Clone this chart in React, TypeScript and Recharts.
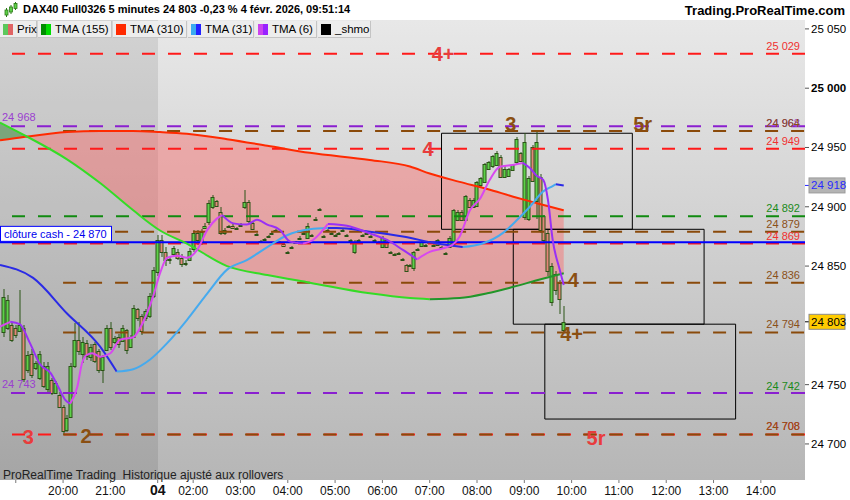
import React from "react";
import {
  ComposedChart,
  Bar,
  Line,
  Area,
  XAxis,
  YAxis,
  ReferenceLine,
  ReferenceArea,
  ReferenceDot,
} from "recharts";

// ---------- time mapping (trading-time axis: the 22:00–01:15 closure is removed) ----------
const toU = (t: string) => {
  const [h, m] = t.split(":").map(Number);
  const hh = h + m / 60;
  return hh >= 18 ? hh - 20 : 2 + (hh - 1.25);
};

// ---------- candles (5 min) : [open, high, low, close] ----------
const EVENING_START = "18:45";
const EVENING: number[][] = [
  [24794, 24831, 24790, 24824], [24798, 24826, 24796, 24821], [24800, 24802, 24786, 24788],
  [24798, 24800, 24789, 24792], [24795, 24830, 24794, 24800], [24798, 24800, 24752, 24755],
  [24762, 24778, 24760, 24775], [24776, 24780, 24756, 24758], [24764, 24770, 24762, 24768],
  [24756, 24778, 24754, 24776], [24766, 24769, 24747, 24749], [24746, 24769, 24744, 24766],
  [24754, 24756, 24741, 24743], [24743, 24753, 24742, 24751], [24741, 24744, 24730, 24731],
  [24731, 24733, 24708, 24711], [24712, 24724, 24710, 24722], [24723, 24768, 24722, 24766],
  [24766, 24802, 24764, 24788], [24788, 24803, 24775, 24778], [24776, 24790, 24768, 24786],
  [24785, 24788, 24771, 24774], [24773, 24784, 24770, 24782], [24784, 24786, 24768, 24770],
  [24778, 24780, 24760, 24762], [24762, 24775, 24751, 24773], [24779, 24800, 24778, 24798],
  [24798, 24803, 24779, 24782], [24786, 24791, 24784, 24789], [24790, 24793, 24781, 24784],
  [24787, 24800, 24786, 24798], [24796, 24797, 24776, 24779], [24782, 24792, 24781, 24790],
  [24790, 24817, 24789, 24815], [24814, 24815, 24804, 24806], [24808, 24810, 24792, 24795],
  [24806, 24814, 24804, 24812], [24808, 24827, 24806, 24825], [24825, 24849, 24823, 24847],
];
const MORNING_START = "01:15";
const MORNING: number[][] = [
  [24845, 24876, 24842, 24872], [24872, 24876, 24858, 24862], [24862, 24866, 24850, 24855],
  [24855, 24858, 24852, 24856], [24860, 24867, 24858, 24865], [24862, 24864, 24855, 24857],
  [24857, 24860, 24849, 24852], [24852, 24855, 24850, 24853], [24855, 24865, 24854, 24863],
  [24864, 24880, 24862, 24878], [24878, 24880, 24868, 24872], [24870, 24881, 24868, 24879],
  [24882, 24886, 24881, 24884], [24887, 24906, 24885, 24903], [24900, 24910, 24898, 24908],
  [24905, 24906, 24900, 24901], [24896, 24900, 24876, 24878], [24878, 24882, 24876, 24880],
  [24883, 24885, 24882, 24884], [24884, 24886, 24881, 24882], [24881, 24883, 24880, 24882],
  [24884, 24886, 24883, 24885], [24900, 24914, 24898, 24904], [24904, 24906, 24886, 24888],
  [24886, 24888, 24880, 24881], [24877, 24878, 24876, 24877], [24871, 24872, 24870, 24871],
  [24873, 24874, 24872, 24873], [24875, 24876, 24874, 24875], [24878, 24879, 24877, 24878],
  [24880, 24881, 24879, 24880], [24870, 24871, 24869, 24870], [24869, 24870, 24866, 24867],
  [24862, 24863, 24861, 24862], [24866, 24867, 24865, 24866], [24870, 24871, 24869, 24870],
  [24873, 24875, 24872, 24874], [24877, 24879, 24876, 24878], [24874, 24886, 24873, 24884],
  [24876, 24877, 24875, 24876], [24890, 24891, 24889, 24890], [24898, 24899, 24897, 24898],
  [24875, 24876, 24874, 24875], [24880, 24881, 24879, 24880], [24878, 24879, 24877, 24878],
  [24876, 24877, 24875, 24876], [24878, 24879, 24877, 24878], [24880, 24881, 24879, 24880],
  [24876, 24877, 24875, 24876], [24871, 24873, 24869, 24872], [24862, 24872, 24860, 24870],
  [24872, 24873, 24871, 24872], [24876, 24877, 24875, 24876], [24878, 24879, 24877, 24878],
  [24875, 24876, 24874, 24875], [24872, 24873, 24871, 24872], [24870, 24871, 24869, 24870],
  [24866, 24875, 24865, 24874], [24872, 24873, 24865, 24866], [24862, 24863, 24861, 24862],
  [24860, 24861, 24859, 24860], [24861, 24862, 24860, 24861], [24856, 24857, 24855, 24856],
  [24851, 24852, 24845, 24846], [24851, 24852, 24850, 24851], [24848, 24863, 24846, 24862],
  [24864, 24865, 24863, 24864], [24867, 24871, 24866, 24870], [24868, 24869, 24867, 24868],
  [24870, 24871, 24869, 24870], [24868, 24869, 24867, 24868], [24868, 24873, 24867, 24872],
  [24866, 24867, 24865, 24866], [24861, 24862, 24860, 24861], [24866, 24875, 24865, 24874],
  [24869, 24898, 24866, 24897], [24889, 24897, 24888, 24896], [24896, 24897, 24888, 24889],
  [24889, 24910, 24888, 24909], [24906, 24907, 24899, 24900], [24900, 24907, 24899, 24906],
  [24901, 24922, 24900, 24921], [24918, 24925, 24917, 24924], [24921, 24937, 24920, 24936],
  [24932, 24939, 24931, 24938], [24934, 24944, 24933, 24943], [24935, 24947, 24934, 24945],
  [24942, 24944, 24924, 24925], [24925, 24934, 24924, 24932], [24926, 24933, 24925, 24932],
  [24931, 24936, 24930, 24935], [24938, 24959, 24936, 24957], [24945, 24946, 24938, 24939],
  [24891, 24962, 24889, 24955], [24890, 24926, 24888, 24924], [24950, 24952, 24921, 24922],
  [24905, 24964, 24890, 24955], [24925, 24928, 24878, 24880], [24892, 24893, 24870, 24872],
  [24878, 24880, 24842, 24846], [24820, 24853, 24816, 24850], [24843, 24846, 24826, 24830],
  [24836, 24838, 24810, 24822], [24796, 24816, 24794, 24803],
];

// ---------- moving averages ----------
const SLOW_TIMES = ["18:40", "19:12", "20:05", "20:47", "21:29", "01:18", "01:52", "02:43", "03:34", "04:28", "05:44", "06:35", "07:00", "07:38", "08:13", "08:46", "09:16", "09:50"];
const TMA310 = [24956, 24959, 24963, 24964, 24964, 24963, 24961.5, 24957, 24951.5, 24945.5, 24939.5, 24934, 24928, 24921, 24915, 24908.5, 24903, 24897];
const TMA155 = [24971, 24960, 24940, 24920, 24897, 24880, 24869, 24850, 24842.5, 24836, 24827, 24823, 24822, 24823, 24827, 24832.5, 24838, 24844];

const TMA31_TIMES = ["18:40", "19:22", "20:05", "20:47", "21:08", "21:29", "21:50", "01:27", "01:52", "02:18", "02:43", "03:08", "03:34", "03:59", "04:28", "04:51", "05:02", "05:44", "06:26", "07:09", "07:42", "08:07", "08:33", "08:51", "09:07", "09:24", "09:36", "09:40", "09:50"];
const TMA31 = [24851, 24840, 24810, 24782, 24761, 24763, 24771, 24785, 24804.5, 24827, 24847, 24855, 24866, 24876, 24881, 24882, 24882, 24879, 24875, 24869, 24866, 24869, 24878, 24889, 24900, 24913, 24917.5, 24919, 24918];

const TMA6_TIMES = ["18:40", "18:53", "19:05", "19:18", "19:31", "19:44", "19:54", "20:03", "20:09", "20:18", "20:24", "20:30", "20:37", "20:47", "21:00", "21:12", "21:29", "21:41", "21:54", "01:18", "01:27", "01:40", "01:52", "02:05", "02:18", "02:30", "02:37", "02:51", "03:08", "03:21", "03:34", "03:50", "04:03", "04:19", "04:32", "04:51", "05:15", "05:44", "06:06", "06:26", "06:44", "07:00", "07:17", "07:29", "07:38", "07:51", "08:04", "08:16", "08:29", "08:42", "08:58", "09:07", "09:16", "09:24", "09:30", "09:36", "09:45", "09:50"];
const TMA6 = [24799, 24803, 24801, 24785, 24767, 24760, 24748, 24737, 24734, 24748, 24768, 24775, 24776.5, 24773.6, 24776.5, 24787.7, 24790, 24802, 24824, 24844, 24857, 24858.6, 24857, 24863.6, 24880.5, 24890, 24893, 24886, 24885, 24889, 24885, 24880.5, 24870.6, 24869, 24872, 24885.5, 24884, 24877.6, 24872, 24863.6, 24855.7, 24862, 24865, 24868, 24875, 24897, 24907, 24922.6, 24933.8, 24935, 24937, 24932.7, 24926, 24922.6, 24905.7, 24872, 24846.7, 24834];

// ---------- horizontal levels ----------
const RED_LEVELS = [25029, 24949, 24869, 24708];
const PURPLE_LEVELS = [24968, 24743];
const BROWN_LEVELS = [24964, 24879, 24836, 24794, 24708];
const GREEN_LEVELS = [24892];
const CASH_CLOSE = 24870;
const LAST_PRICE = 24803;
const LAST_TMA31 = 24918;
// [value shown, level it sits on, colour]
const RIGHT_TAGS: [number, number, string][] = [
  [25029, 25029, "red"], [24968, 24964, "purple"], [24964, 24964, "brown"], [24949, 24949, "red"],
  [24892, 24892, "green"], [24879, 24879, "brown"], [24869, 24869, "red"], [24836, 24836, "brown"],
  [24794, 24794, "brown"], [24742, 24742, "green"], [24708, 24708, "red"], [24708, 24708, "brown"],
];
const LEFT_TAGS = [24968, 24743];

// ---------- annotations ----------
const BIG_LABELS: { t: string; v: number; text: string; c: string }[] = [
  { t: "07:17", v: 25029, text: "4+", c: "red" },
  { t: "06:58", v: 24949, text: "4", c: "red" },
  { t: "08:43", v: 24970, text: "3", c: "brown" },
  { t: "11:30", v: 24970, text: "5r", c: "brown" },
  { t: "10:02", v: 24838, text: "4", c: "brown" },
  { t: "10:00", v: 24793, text: "4+", c: "brown" },
  { t: "19:16", v: 24706, text: "3", c: "red" },
  { t: "20:29", v: 24707, text: "2", c: "brown" },
  { t: "10:31", v: 24705, text: "5r", c: "red" },
];
const BOXES: [string, string, number, number][] = [
  ["07:15", "11:17", 24962, 24881],
  ["08:46", "12:48", 24881, 24801],
  ["09:26", "13:28", 24801, 24721],
];

// ---------- axes ----------
const X_DOMAIN = [toU("18:40"), toU("14:56")];
const Y_DOMAIN = [24669.6, 25057.5];
const X_TICK_TIMES = ["19:00", "20:00", "21:00", "22:00", "02:00", "03:00", "04:00", "05:00", "06:00", "07:00", "08:00", "09:00", "10:00", "11:00", "12:00", "13:00", "14:00"];
const X_TICK_LABELS = ["", "20:00", "21:00", "04", "02:00", "03:00", "04:00", "05:00", "06:00", "07:00", "08:00", "09:00", "10:00", "11:00", "12:00", "13:00", "14:00"];
const Y_TICKS = [24700, 24750, 24850, 24900, 24950, 25000, 25050];

// ---------- styles ----------
const COL: Record<string, string> = {
  red: "#ff1a1a",
  purple: "#8a1fd0",
  brown: "#8a4a0a",
  green: "#108a10",
};
const TAG_COL: Record<string, string> = {
  red: "#f03030",
  purple: "#9a40d0",
  brown: "#8a5018",
  green: "#1a8a1a",
};
const BIG_COL: Record<string, string> = { red: "#e83c3c", brown: "#8a4f12" };
const WICK = "#2b5416";
const UP = "#5ed04a";
const DOWN = "#e4867a";
const FONT = "'Liberation Sans', Arial, sans-serif";
const NARROW = "'Liberation Sans Narrow', 'Liberation Sans', Arial, sans-serif";

const fmt = (v: number) => String(v).replace(/\B(?=(\d{3})+(?!\d))/g, " ");

const candles = [
  ...EVENING.map((q, i) => ({ u: toU(EVENING_START) + i / 12, o: q[0], h: q[1], l: q[2], c: q[3] })),
  ...MORNING.map((q, i) => ({ u: toU(MORNING_START) + i / 12, o: q[0], h: q[1], l: q[2], c: q[3] })),
];

const pts = (times: string[], vals: number[]) => times.map((t, i) => ({ u: toU(t), v: vals[i] }));
const seg = (p: { u: number; v: number }[], a: string, b: string) =>
  p.filter((d) => d.u >= toU(a) - 1e-9 && d.u <= toU(b) + 1e-9);

const red310 = pts(SLOW_TIMES, TMA310);
const green155 = pts(SLOW_TIMES, TMA155);
const slowBand = SLOW_TIMES.map((t, i) => ({ u: toU(t), g: TMA155[i], r: TMA310[i] }));
const blue31 = pts(TMA31_TIMES, TMA31);
const purple6 = pts(TMA6_TIMES, TMA6);

const BLUE_SEGS: [string, string, string][] = [
  ["18:40", "21:08", "#2a2ae6"],
  ["21:08", "04:51", "#46aaee"],
  ["04:51", "07:42", "#2a2ae6"],
  ["07:42", "09:40", "#46aaee"],
  ["09:40", "09:50", "#2a2ae6"],
];
const PURPLE_SEGS: [string, string, string][] = [
  ["18:40", "18:53", "#d848f0"],
  ["18:53", "20:09", "#9a30f5"],
  ["20:09", "02:37", "#d848f0"],
  ["02:37", "04:19", "#9a30f5"],
  ["04:19", "04:51", "#d848f0"],
  ["04:51", "06:44", "#9a30f5"],
  ["06:44", "08:58", "#d848f0"],
  ["08:58", "09:50", "#9a30f5"],
];
const GREEN_SEGS: [string, string, string][] = [
  ["18:40", "07:00", "#34dc26"],
  ["07:00", "09:50", "#22962a"],
];

const CandleShape = (props: any) => {
  const { x, y, width, height, payload } = props;
  if (x == null || y == null || !payload) return null;
  const top = Math.min(y, y + height);
  const bot = Math.max(y, y + height);
  const { o, h, l, c } = payload;
  const span = h - l || 1;
  const toY = (v: number) => top + ((h - v) / span) * (bot - top);
  const left = Math.round(x + width / 2 - 1.5) + 0.5;
  const mid = left + 1.5;
  const bt = Math.round(toY(Math.max(o, c))) + 0.5;
  const bb = Math.round(toY(Math.min(o, c))) + 0.5;
  return (
    <g>
      <line x1={mid} x2={mid} y1={Math.round(top)} y2={Math.round(bot)} stroke={WICK} strokeWidth={1} />
      <rect x={left - 0.5} y={bt} width={3} height={Math.max(bb - bt, 1)} fill={c >= o ? UP : DOWN} stroke={WICK} strokeWidth={1} />
    </g>
  );
};

const XTick = (props: any) => {
  const { x, y, payload } = props;
  const idx = X_TICK_TIMES.findIndex((t) => Math.abs(toU(t) - payload.value) < 1e-6);
  const lab = idx >= 0 ? X_TICK_LABELS[idx] : "";
  const bold = lab === "04";
  return (
    <text x={x} y={y + 10} textAnchor="middle" fontFamily={NARROW} fontSize={bold ? 14 : 12} fontWeight={bold ? "bold" : "normal"} fill="#111">
      {lab}
    </text>
  );
};

const YTick = (props: any) => {
  const { x, y, payload } = props;
  return (
    <text x={x} y={y + 4} textAnchor="start" fontFamily={FONT} fontSize={11.5} fontWeight={payload.value === 25000 ? "bold" : "normal"} fill="#000">
      {fmt(payload.value)}
    </text>
  );
};

const Swatch = ({ a, b }: { a: string; b: string }) => (
  <span style={{ display: "inline-flex", width: 10, height: 11, marginRight: 4, flexShrink: 0 }}>
    <span style={{ width: 5, height: 11, background: a }} />
    <span style={{ width: 5, height: 11, background: b }} />
  </span>
);

const LEGEND: { left: number; w: number; a: string; b: string; label: string }[] = [
  { left: 0, w: 38, a: "#5cc85c", b: "#e06464", label: "Prix" },
  { left: 38, w: 75, a: "#008c00", b: "#00dc00", label: "TMA (155)" },
  { left: 113, w: 75, a: "#ff2a00", b: "#ff2a00", label: "TMA (310)" },
  { left: 188, w: 67, a: "#3aaaf0", b: "#2222ff", label: "TMA (31)" },
  { left: 255, w: 63, a: "#cc44ee", b: "#9922ff", label: "TMA (6)" },
  { left: 318, w: 54, a: "#000", b: "#000", label: "_shmo" },
];

export default function App() {
  const xMax = X_DOMAIN[1];
  const xMin = X_DOMAIN[0];
  return (
    <div style={{ position: "absolute", left: 0, top: 0, width: 850, height: 500, background: "#fff", overflow: "hidden", fontFamily: FONT }}>
      {/* plot background */}
      <div style={{ position: "absolute", left: 0, top: 20, width: 805, height: 460, background: "linear-gradient(#e8e8e8, #b6b6b6)" }} />
      <div style={{ position: "absolute", left: 0, top: 20, width: 158, height: 460, background: "rgba(0,0,0,0.09)" }} />

      <div style={{ position: "absolute", left: 0, top: 0 }}>
        <ComposedChart width={850} height={500} data={candles} margin={{ top: 20, right: 0, bottom: 0, left: 0 }}>
          <XAxis
            dataKey="u"
            type="number"
            domain={X_DOMAIN}
            allowDataOverflow
            ticks={X_TICK_TIMES.map(toU)}
            interval={0}
            height={20}
            tick={<XTick />}
            tickLine={{ stroke: "#777" }}
            tickSize={3}
            axisLine={false}
          />
          <YAxis
            orientation="right"
            type="number"
            domain={Y_DOMAIN}
            allowDataOverflow
            ticks={Y_TICKS}
            interval={0}
            width={45}
            tick={<YTick />}
            tickLine={{ stroke: "#555" }}
            tickSize={4}
            tickMargin={2}
            axisLine={false}
          />

          <Area data={slowBand.slice(0, 2)} dataKey={(d: any) => [d.r, d.g]} type="monotone" stroke="none" fill="#3c8a3c" fillOpacity={0.55} isAnimationActive={false} />
          <Area data={slowBand.slice(1)} dataKey={(d: any) => [d.g, d.r]} type="monotone" stroke="none" fill="#ff6464" fillOpacity={0.42} isAnimationActive={false} />

          {RED_LEVELS.map((v) => (
            <ReferenceLine key={"r" + v} y={v} stroke={COL.red} strokeWidth={2} strokeDasharray="13 13" />
          ))}
          {PURPLE_LEVELS.map((v) => (
            <ReferenceLine key={"p" + v} y={v} stroke={COL.purple} strokeWidth={2} strokeDasharray="14 12" />
          ))}
          {GREEN_LEVELS.map((v) => (
            <ReferenceLine key={"g" + v} y={v} stroke={COL.green} strokeWidth={2} strokeDasharray="13 13" />
          ))}
          {BROWN_LEVELS.map((v) => (
            <ReferenceLine key={"b" + v} segment={[{ x: toU("20:00"), y: v }, { x: xMax, y: v }]} stroke={COL.brown} strokeWidth={2} strokeDasharray="13 13" />
          ))}
          <ReferenceLine y={CASH_CLOSE} stroke="#0000ff" strokeWidth={2} />

          <Bar dataKey={(d: any) => [d.l, d.h]} barSize={3} shape={<CandleShape />} isAnimationActive={false} />

          <Line data={red310} dataKey="v" type="monotone" stroke="#ff2a00" strokeWidth={2} dot={false} isAnimationActive={false} />
          {GREEN_SEGS.map(([a, b, c]) => (
            <Line key={"gs" + a} data={seg(green155, a, b)} dataKey="v" type="monotone" stroke={c} strokeWidth={2} dot={false} isAnimationActive={false} />
          ))}
          {BLUE_SEGS.map(([a, b, c]) => (
            <Line key={"bs" + a} data={seg(blue31, a, b)} dataKey="v" type="monotone" stroke={c} strokeWidth={2} dot={false} isAnimationActive={false} />
          ))}
          {PURPLE_SEGS.map(([a, b, c]) => (
            <Line key={"ps" + a} data={seg(purple6, a, b)} dataKey="v" type="monotone" stroke={c} strokeWidth={2} dot={false} isAnimationActive={false} />
          ))}

          {BOXES.map(([a, b, y1, y2]) => (
            <ReferenceArea key={"box" + a} x1={toU(a)} x2={toU(b)} y1={y1} y2={y2} fill="none" fillOpacity={0} stroke="#000" strokeWidth={1} ifOverflow="visible" />
          ))}

          {RIGHT_TAGS.map(([v, lvl, c], i) => (
            <ReferenceDot
              key={"rt" + i}
              x={xMax}
              y={lvl}
              r={1}
              ifOverflow="visible"
              shape={(p: any) => (
                <text x={p.cx - 5} y={p.cy - 4} textAnchor="end" fontFamily={FONT} fontSize={11} fill={TAG_COL[c]}>
                  {fmt(v)}
                </text>
              )}
            />
          ))}
          {LEFT_TAGS.map((v) => (
            <ReferenceDot
              key={"lt" + v}
              x={xMin}
              y={v}
              r={1}
              ifOverflow="visible"
              shape={(p: any) => (
                <text x={p.cx + 2} y={p.cy - 5} textAnchor="start" fontFamily={FONT} fontSize={11} fill={TAG_COL.purple}>
                  {fmt(v)}
                </text>
              )}
            />
          ))}
          <ReferenceDot
            x={xMin}
            y={CASH_CLOSE}
            r={1}
            ifOverflow="visible"
            shape={(p: any) => (
              <g>
                <rect x={p.cx + 0.5} y={p.cy - 16} width={111} height={15} fill="#fff" stroke="#0000ff" strokeWidth={1} />
                <text x={p.cx + 4} y={p.cy - 4.5} fontFamily={FONT} fontSize={11} fill="#0000ee">
                  {"clôture cash -  " + fmt(CASH_CLOSE)}
                </text>
              </g>
            )}
          />
          {BIG_LABELS.map((b, i) => (
            <ReferenceDot
              key={"bl" + i}
              x={toU(b.t)}
              y={b.v}
              r={1}
              ifOverflow="visible"
              shape={(p: any) => (
                <text x={p.cx} y={p.cy + 7} textAnchor="middle" fontFamily={FONT} fontSize={20} fontWeight="bold" fill={BIG_COL[b.c]}>
                  {b.text}
                </text>
              )}
            />
          ))}
          <ReferenceDot
            x={xMax}
            y={LAST_TMA31}
            r={1}
            ifOverflow="visible"
            shape={(p: any) => (
              <g>
                <line x1={p.cx} x2={p.cx + 4} y1={p.cy} y2={p.cy} stroke="#2222ff" />
                <rect x={p.cx + 4} y={p.cy - 7.5} width={36} height={15} fill="#b4b4b4" stroke="#9a9a9a" />
                <text x={p.cx + 6} y={p.cy + 4} fontFamily={FONT} fontSize={11.5} fill="#2a2aff">
                  {fmt(LAST_TMA31)}
                </text>
              </g>
            )}
          />
          <ReferenceDot
            x={xMax}
            y={LAST_PRICE}
            r={1}
            ifOverflow="visible"
            shape={(p: any) => (
              <g>
                <line x1={p.cx} x2={p.cx + 4} y1={p.cy} y2={p.cy} stroke="#000" />
                <rect x={p.cx + 4} y={p.cy - 7.5} width={36} height={15} fill="#ffcc00" stroke="#8a8a8a" />
                <text x={p.cx + 6} y={p.cy + 4} fontFamily={FONT} fontSize={11.5} fill="#000">
                  {fmt(LAST_PRICE)}
                </text>
              </g>
            )}
          />
        </ComposedChart>
      </div>

      {/* title row */}
      <div style={{ position: "absolute", left: 0, top: 0, width: 850, height: 20, background: "#fff" }}>
        <svg width={14} height={16} style={{ position: "absolute", left: 4, top: 2 }}>
          <line x1={2.5} x2={2.5} y1={6} y2={15} stroke="#2b7a16" />
          <rect x={1} y={8} width={3} height={5} fill="#5ed04a" stroke="#2b7a16" strokeWidth={0.8} />
          <line x1={7} x2={7} y1={3} y2={12} stroke="#2b7a16" />
          <rect x={5.5} y={5} width={3} height={5} fill="#5ed04a" stroke="#2b7a16" strokeWidth={0.8} />
          <line x1={11.5} x2={11.5} y1={0} y2={8} stroke="#2b7a16" />
          <rect x={10} y={1.5} width={3} height={5} fill="#5ed04a" stroke="#2b7a16" strokeWidth={0.8} />
        </svg>
        <div style={{ position: "absolute", left: 23, top: 3, fontSize: 11, fontWeight: "bold", color: "#000", whiteSpace: "nowrap" }}>
          DAX40 Full0326 5 minutes 24 803 -0,23 % 4 févr. 2026, 09:51:14
        </div>
        <div style={{ position: "absolute", right: 5, top: 3, fontSize: 13, fontWeight: "bold", color: "#000", whiteSpace: "nowrap" }}>
          Trading.ProRealTime.com
        </div>
      </div>

      {/* legend row */}
      {LEGEND.map((it) => (
        <div
          key={it.label}
          style={{
            position: "absolute",
            left: it.left,
            top: 21,
            width: it.w - 1,
            height: 17,
            background: "#ededed",
            borderRight: "1px solid #c4c4c4",
            borderBottom: "1px solid #c4c4c4",
            display: "flex",
            alignItems: "center",
            paddingLeft: 3,
            boxSizing: "border-box",
            fontSize: 11.5,
            color: "#000",
            whiteSpace: "nowrap",
          }}
        >
          <Swatch a={it.a} b={it.b} />
          {it.label}
        </div>
      ))}

      {/* footer note */}
      <div style={{ position: "absolute", left: 3, top: 468, fontFamily: NARROW, fontSize: 12, color: "#222", whiteSpace: "nowrap" }}>
        ProRealTime Trading&nbsp; Historique ajusté aux rollovers
      </div>
    </div>
  );
}
